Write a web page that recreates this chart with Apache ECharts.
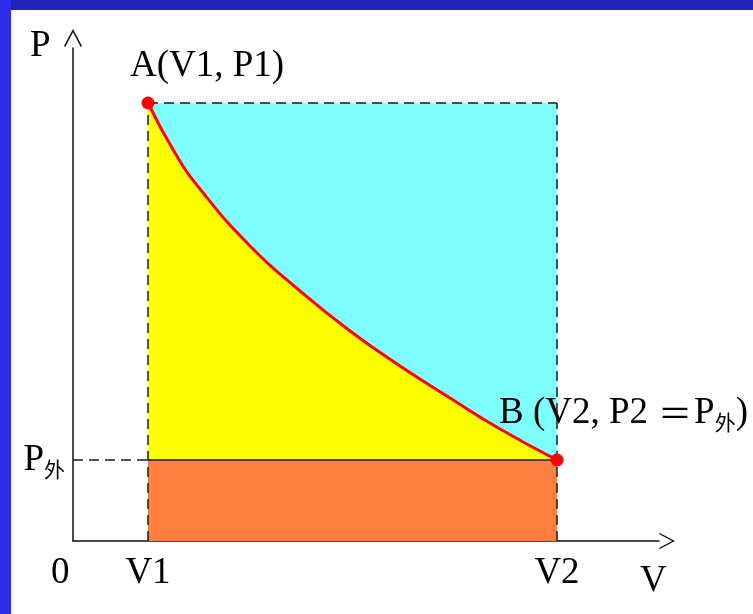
<!DOCTYPE html>
<html>
<head>
<meta charset="utf-8">
<script src="https://cdn.jsdelivr.net/npm/echarts@6/dist/echarts.min.js"></script>
<style>
  html, body { margin:0; padding:0; background:#ffffff; }
  #wrap { position:relative; width:753px; height:614px; background:#ffffff; overflow:hidden; }
  #topband { position:absolute; left:0; top:0; width:753px; height:10px; background:#2323b5; }
  #leftband { position:absolute; left:0; top:0; width:11px; height:614px; background:#2d2de6; }
  #chart { position:absolute; left:0; top:0; width:753px; height:614px; }
</style>
</head>
<body>
<div id="wrap">
  <div id="topband"></div>
  <div id="leftband"></div>
  <div id="chart"></div>
</div>
<script>
// Schematic values (arbitrary units on the V and P axes)
const V1 = 75, V2 = 484;
const P1 = 438, P2 = 81;
const curveV = [75, 102, 127, 177, 227, 277, 327, 377, 427, 484];
const curveP = [438, 388, 352, 295, 250, 210, 175, 143, 112, 81];
const xTickValues = [V1, V2];
const xTickLabels = ['V1', 'V2'];
const yTickValues = [P2];
const pointLabels = ['A(V1, P1)', 'B (V2, P2{e|＝}P{s|外})'];

const curve = curveV.map((v, i) => [v, curveP[i]]);
const serif = '"Liberation Serif", "DejaVu Serif", "Noto Sans CJK SC", serif';
const cjk = '"Noto Sans CJK SC", sans-serif';
const ink = '#000000';
const dash = { color: '#1a1a1a', width: 1.5, type: [10, 6] };
const richStyles = {
  s: { fontFamily: cjk, fontSize: 21, color: ink, padding: [18, 0, 0, 0] },
  e: { fontFamily: cjk, fontSize: 34, color: ink, padding: [0, 2, 0, 10] }
};
const chart = echarts.init(document.getElementById('chart'), null, { renderer: 'canvas' });

chart.setOption({
  animation: false,
  backgroundColor: 'transparent',
  grid: { left: 73, top: 48, right: 94, bottom: 73, containLabel: false },
  xAxis: {
    type: 'value', min: 0, max: 586,
    splitLine: { show: false },
    axisTick: { show: false },
    axisLine: { show: true, lineStyle: { color: '#111', width: 1.5 },
      symbol: ['none', 'path://M0,0 L10,19 L8.6,20 L0,3.6 L-8.6,20 L-10,19 Z'],
      symbolSize: [18, 16], symbolOffset: [0, 8] },
    axisLabel: {
      customValues: xTickValues,
      formatter: v => xTickLabels[xTickValues.indexOf(v)],
      color: ink, fontFamily: serif, fontSize: 37, lineHeight: 37, margin: 14
    }
  },
  yAxis: {
    type: 'value', min: 0, max: 493,
    splitLine: { show: false },
    axisTick: { show: false },
    axisLine: { show: true, lineStyle: { color: '#111', width: 1.5 },
      symbol: ['none', 'path://M0,0 L10,19 L8.6,20 L0,3.6 L-8.6,20 L-10,19 Z'],
      symbolSize: [18, 20], symbolOffset: [0, 10] },
    axisLabel: {
      customValues: yTickValues,
      formatter: () => '{p|P}{s|外}',
      margin: 8,
      rich: {
        p: { fontFamily: serif, fontSize: 37, color: ink, lineHeight: 37 },
        s: richStyles.s
      }
    }
  },
  graphic: [
    { type: 'text', left: 30, top: 28, style: { text: 'P', font: '37px ' + serif, fill: ink } },
    { type: 'text', left: 51, top: 555, style: { text: '0', font: '37px ' + serif, fill: ink } },
    { type: 'text', left: 640, top: 563, style: { text: 'V', font: '37px ' + serif, fill: ink } }
  ],
  series: [
    { type: 'line', data: [[V1, P1], [V2, P1]], symbol: 'none', z: 1,
      lineStyle: { width: 0 }, areaStyle: { color: '#80ffff', opacity: 1 } },
    { type: 'line', data: curve, symbol: 'none', smooth: true, z: 2,
      lineStyle: { width: 0 }, areaStyle: { color: '#ffff00', opacity: 1 } },
    { type: 'line', data: [[V1, P2], [V2, P2]], symbol: 'none', z: 3,
      lineStyle: { color: '#1a1a1a', width: 1.5 }, areaStyle: { color: '#ff7f3f', opacity: 1 } },
    { type: 'line', data: [[V1, P1], [V2, P1]], symbol: 'none', z: 4, lineStyle: dash },
    { type: 'line', data: [[V1, 0], [V1, P1]], symbol: 'none', z: 4, lineStyle: dash },
    { type: 'line', data: [[V2, 0], [V2, P1]], symbol: 'none', z: 4, lineStyle: dash },
    { type: 'line', data: [[0, P2], [V1, P2]], symbol: 'none', z: 4, lineStyle: dash },
    { type: 'line', data: curve, symbol: 'none', smooth: true, z: 5,
      lineStyle: { color: '#ff0000', width: 3 } },
    { type: 'scatter', z: 6, symbol: 'circle', symbolSize: 13,
      itemStyle: { color: '#ff0000', opacity: 1 },
      data: [
        { value: [V1, P1], label: { show: true, formatter: pointLabels[0], position: 'inside',
            align: 'left', verticalAlign: 'middle', offset: [-18, -37],
            color: ink, fontFamily: serif, fontSize: 37, textBorderWidth: 0, opacity: 1, rich: richStyles } },
        { value: [V2, P2], label: { show: true, formatter: pointLabels[1], position: 'inside',
            align: 'left', verticalAlign: 'middle', offset: [-58, -47],
            color: ink, fontFamily: serif, fontSize: 37, textBorderWidth: 0, opacity: 1, rich: richStyles } }
      ]
    }
  ]
});
</script>
</body>
</html>
